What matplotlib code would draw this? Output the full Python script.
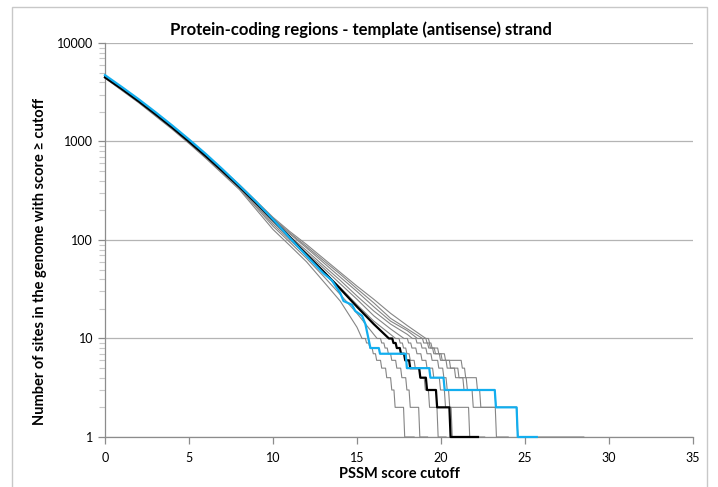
import matplotlib
matplotlib.use("Agg")
import matplotlib.pyplot as plt
from matplotlib.patches import Rectangle

plt.rcParams['font.family'] = ['Lato', 'DejaVu Sans']

title = "Protein-coding regions - template (antisense) strand"
xlabel = "PSSM score cutoff"
ylabel = "Number of sites in the genome with score \u2265 cutoff"
x_ticks = [0, 5, 10, 15, 20, 25, 30, 35]
y_ticks = [1, 10, 100, 1000, 10000]
y_tick_labels = ["1", "10", "100", "1000", "10000"]

# ---- gray (background) curves: smooth body, then step tail ----
g1_bx = [0, 2, 4, 5, 6, 8, 10, 11, 12, 13, 14, 15, 15.3]
g1_bn = [4400, 2480, 1330, 955, 675, 325, 128, 88, 60, 38, 24, 13, 10]
g1_sx = [15.5, 15.7, 15.9, 16.1, 16.4, 16.7, 17.0, 17.2, 17.77]
g1_sn = [9, 8, 7, 6, 5, 4, 3, 2, 1]
g1_end = 18.4

g2_bx = [0, 2, 4, 5, 6, 8, 10, 11, 12, 13, 14, 15, 16, 16.2]
g2_bn = [4450, 2520, 1360, 975, 690, 335, 138, 95, 65, 43, 28, 18, 11, 10]
g2_sx = [16.4, 16.6, 16.8, 17.0, 17.3, 17.6, 17.9, 18.1, 18.67]
g2_sn = [9, 8, 7, 6, 5, 4, 3, 2, 1]
g2_end = 19.2

g3_bx = [0, 2, 4, 5, 6, 8, 10, 11, 12, 13, 14, 15, 16, 17, 17.3]
g3_bn = [4480, 2550, 1380, 990, 700, 342, 145, 100, 70, 48, 33, 22, 15, 11, 10]
g3_sx = [17.5, 17.7, 17.9, 18.1, 18.4, 18.7, 19.0, 19.25, 19.76]
g3_sn = [9, 8, 7, 6, 5, 4, 3, 2, 1]
g3_end = 20.3

g4_bx = [0, 2, 4, 5, 6, 8, 10, 11, 12, 13, 14, 15, 16, 17, 17.8]
g4_bn = [4500, 2570, 1390, 1000, 712, 348, 152, 105, 74, 52, 36, 25, 17, 12.5, 10]
g4_sx = [18.0, 18.2, 18.5, 18.8, 19.1, 19.5, 19.9, 20.2, 20.6]
g4_sn = [9, 8, 7, 6, 5, 4, 3, 2, 1]
g4_end = 21.2

g5_bx = [0, 2, 4, 5, 6, 8, 10, 11, 12, 13, 14, 15, 16, 17, 18, 18.3]
g5_bn = [4520, 2580, 1400, 1008, 718, 352, 156, 109, 78, 55, 39, 27, 19, 14, 11, 10]
g5_sx = [18.5, 18.8, 19.1, 19.4, 19.8, 20.1, 20.3, 20.45, 21.64]
g5_sn = [9, 8, 7, 6, 5, 4, 3, 2, 1]
g5_end = 22.6

g6_bx = [0, 2, 4, 5, 6, 8, 10, 11, 12, 13, 14, 15, 16, 17, 18, 18.6]
g6_bn = [4540, 2595, 1410, 1015, 725, 357, 162, 115, 83, 59, 42, 30, 21, 15, 12, 10]
g6_sx = [18.9, 19.2, 19.5, 19.9, 20.3, 20.8, 21.3, 21.85, 23.23]
g6_sn = [9, 8, 7, 6, 5, 4, 3, 2, 1]
g6_end = 24.0

g7_bx = [0, 2, 4, 5, 6, 8, 10, 11, 12, 13, 14, 15, 16, 17, 18, 18.9]
g7_bn = [4550, 2600, 1415, 1020, 730, 360, 166, 118, 86, 62, 45, 32, 23, 16, 12.5, 10]
g7_sx = [19.1, 19.3, 19.6, 20.0, 20.5, 21.0, 21.5, 22.3, 24.5]
g7_sn = [9, 8, 7, 6, 5, 4, 3, 2, 1]
g7_end = 25.0

g8_bx = [0, 2, 4, 5, 6, 8, 10, 11, 12, 13, 14, 15, 16, 17, 18, 19.1]
g8_bn = [4560, 2610, 1420, 1025, 735, 365, 170, 122, 90, 65, 47, 34, 25, 18, 13.5, 10]
g8_sx = [19.25, 19.4, 19.8, 20.2, 21.2, 21.4, 22.1, 23.2, 24.5]
g8_sn = [9, 8, 7, 6, 5, 4, 3, 2, 1]
g8_end = 28.5

# ---- black curve ----
blk_bx = [0, 1, 2, 3, 4, 5, 6, 7, 8, 9, 10, 11, 12, 13, 14, 15, 16, 16.9]
blk_bn = [4480, 3420, 2566, 1900, 1388, 1000, 712, 500, 347, 237, 160, 107, 71, 48, 32, 21, 14, 10]
blk_sx = [17.1, 17.3, 17.55, 17.8, 18.1, 18.7, 19.1, 19.7, 20.5]
blk_sn = [9, 8, 7, 6, 5, 4, 3, 2, 1]
blk_end = 22.2

# ---- cyan curve ----
cy_bx = [0, 1, 2, 3, 4, 5, 6, 7, 8, 9, 10, 11, 12, 13, 13.5, 14, 14.2, 14.7, 14.9, 15.3, 15.5, 15.8]
cy_bn = [4720, 3580, 2690, 1990, 1455, 1050, 748, 522, 358, 244, 162, 105, 69, 46, 39, 29, 24, 22, 19, 17, 14, 8]
cy_sx = [16.3, 17.9, 19.3, 20.15, 23.2, 24.5]
cy_sn = [7, 5, 4, 3, 2, 1]
cy_end = 25.7

RISER = 0.07


def build(bx, bn, sx, sn, end):
    xs = list(bx)
    ns = list(bn)
    prev = bn[-1]
    for x, n in zip(sx, sn):
        xs += [x, x + RISER]
        ns += [prev, n]
        prev = n
    xs.append(end)
    ns.append(prev)
    return xs, ns


fig = plt.figure(figsize=(7.18, 4.87), dpi=100)
ax = fig.add_axes([0.1462, 0.1027, 0.819, 0.809])

grays = [
    (g1_bx, g1_bn, g1_sx, g1_sn, g1_end),
    (g2_bx, g2_bn, g2_sx, g2_sn, g2_end),
    (g3_bx, g3_bn, g3_sx, g3_sn, g3_end),
    (g4_bx, g4_bn, g4_sx, g4_sn, g4_end),
    (g5_bx, g5_bn, g5_sx, g5_sn, g5_end),
    (g6_bx, g6_bn, g6_sx, g6_sn, g6_end),
    (g7_bx, g7_bn, g7_sx, g7_sn, g7_end),
    (g8_bx, g8_bn, g8_sx, g8_sn, g8_end),
]
for g in grays:
    xs, ns = build(*g)
    ax.plot(xs, ns, color='#858585', lw=0.8, zorder=3, clip_on=False)

xs, ns = build(blk_bx, blk_bn, blk_sx, blk_sn, blk_end)
ax.plot(xs, ns, color='black', lw=1.6, zorder=4, clip_on=False)

xs, ns = build(cy_bx, cy_bn, cy_sx, cy_sn, cy_end)
ax.plot(xs, ns, color='#12AEEF', lw=1.6, zorder=5, clip_on=False)

ax.set_yscale('log')
ax.set_xlim(0, 35)
ax.set_ylim(1, 10000)
ax.set_xticks(x_ticks)
ax.set_xticklabels([str(t) for t in x_ticks])
ax.set_yticks(y_ticks)
ax.set_yticklabels(y_tick_labels)
ax.yaxis.set_minor_locator(matplotlib.ticker.LogLocator(base=10, subs=range(2, 10), numticks=20))
ax.yaxis.set_minor_formatter(matplotlib.ticker.NullFormatter())

ax.grid(axis='y', which='major', color='#b4b4b4', lw=0.9, zorder=0)
ax.set_axisbelow(True)
for s in ['top', 'right']:
    ax.spines[s].set_visible(False)
for s in ['left', 'bottom']:
    ax.spines[s].set_color('#8c8c8c')
    ax.spines[s].set_linewidth(0.9)
ax.tick_params(axis='both', which='major', direction='out', length=5, color='#8c8c8c',
               labelsize=9, labelcolor='black', width=0.9)
ax.tick_params(axis='y', which='minor', direction='out', length=4, color='#c8c8c8', width=0.8)
ax.tick_params(axis='x', which='major', pad=6)

ax.set_xlabel(xlabel, fontsize=10.5, fontweight='bold', labelpad=2)
ax.set_ylabel(ylabel, fontsize=10.5, fontweight='bold', labelpad=7, y=0.445)
fig.text(0.503, 0.94, title, ha='center', va='center', fontsize=12, fontweight='bold')

fig.patches.append(Rectangle((12 / 718, -0.05), (707 - 12) / 718, 1.05 - 7 / 487,
                             transform=fig.transFigure, fill=False,
                             edgecolor='#c8c8c8', lw=1.0))

fig.savefig('out.png', dpi=100)
